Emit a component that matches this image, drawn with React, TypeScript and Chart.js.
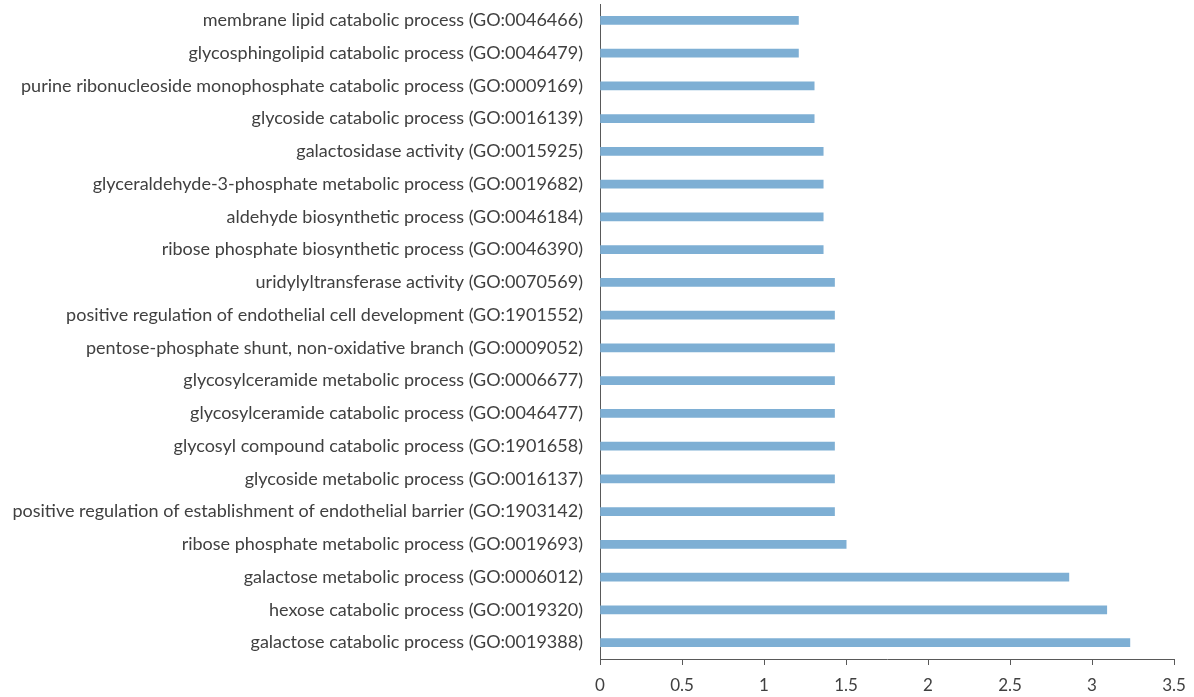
import React, { useEffect, useRef } from "react";
import { Chart, registerables } from "chart.js";

Chart.register(...registerables);

const categories: string[] = [
  "membrane lipid catabolic process (GO:0046466)",
  "glycosphingolipid catabolic process (GO:0046479)",
  "purine ribonucleoside monophosphate catabolic process (GO:0009169)",
  "glycoside catabolic process (GO:0016139)",
  "galactosidase activity (GO:0015925)",
  "glyceraldehyde-3-phosphate metabolic process (GO:0019682)",
  "aldehyde biosynthetic process (GO:0046184)",
  "ribose phosphate biosynthetic process (GO:0046390)",
  "uridylyltransferase activity (GO:0070569)",
  "positive regulation of endothelial cell development (GO:1901552)",
  "pentose-phosphate shunt, non-oxidative branch (GO:0009052)",
  "glycosylceramide metabolic process (GO:0006677)",
  "glycosylceramide catabolic process (GO:0046477)",
  "glycosyl compound catabolic process (GO:1901658)",
  "glycoside metabolic process (GO:0016137)",
  "positive regulation of establishment of endothelial barrier (GO:1903142)",
  "ribose phosphate metabolic process (GO:0019693)",
  "galactose metabolic process (GO:0006012)",
  "hexose catabolic process (GO:0019320)",
  "galactose catabolic process (GO:0019388)",
];

const values: number[] = [
  1.21, 1.21, 1.306, 1.306, 1.361, 1.361, 1.361, 1.361, 1.43, 1.43,
  1.43, 1.43, 1.43, 1.43, 1.43, 1.43, 1.501, 2.859, 3.09, 3.231,
];

const xMin = 0;
const xMax = 3.5;
const xStep = 0.5;

export default function App() {
  const ref = useRef<HTMLCanvasElement | null>(null);

  useEffect(() => {
    if (!ref.current) return;
    const chart = new Chart(ref.current, {
      type: "bar",
      data: {
        labels: categories,
        datasets: [
          {
            data: values,
            backgroundColor: "#7eafd4",
            borderWidth: 0,
            barThickness: 8,
          },
        ],
      },
      options: {
        indexAxis: "y",
        animation: false,
        responsive: true,
        maintainAspectRatio: false,
        layout: { padding: { top: 4, right: 20, bottom: 0, left: 0 } },
        plugins: { legend: { display: false }, tooltip: { enabled: false } },
        scales: {
          x: {
            type: "linear",
            min: xMin,
            max: xMax,
            ticks: {
              stepSize: xStep,
              color: "#404040",
              font: { family: "Lato", size: 17 },
              padding: 10,
              callback: (v: any) => String(Number(v)),
            },
            grid: {
              display: true,
              drawOnChartArea: false,
              drawTicks: true,
              tickLength: 6,
              color: "#595959",
              lineWidth: 1,
            },
            border: { display: true, color: "#595959", width: 1 },
            afterFit: (s: any) => {
              s.height = 38;
              s.paddingLeft = 0;
              s.paddingRight = 0;
            },
          },
          y: {
            type: "category",
            ticks: {
              color: "#404040",
              font: { family: "Lato", size: 18 },
              padding: 17,
              autoSkip: false,
            },
            grid: { display: false, drawTicks: false },
            border: { display: true, color: "#595959", width: 1 },
            afterFit: (s: any) => {
              s.width = 600;
              s.paddingTop = 0;
              s.paddingBottom = 0;
            },
          },
        },
      },
    });
    return () => chart.destroy();
  }, []);

  return (
    <div
      style={{
        position: "fixed",
        left: 0,
        top: 0,
        width: 1194,
        height: 697,
        background: "#ffffff",
      }}
    >
      <canvas ref={ref} />
    </div>
  );
}
